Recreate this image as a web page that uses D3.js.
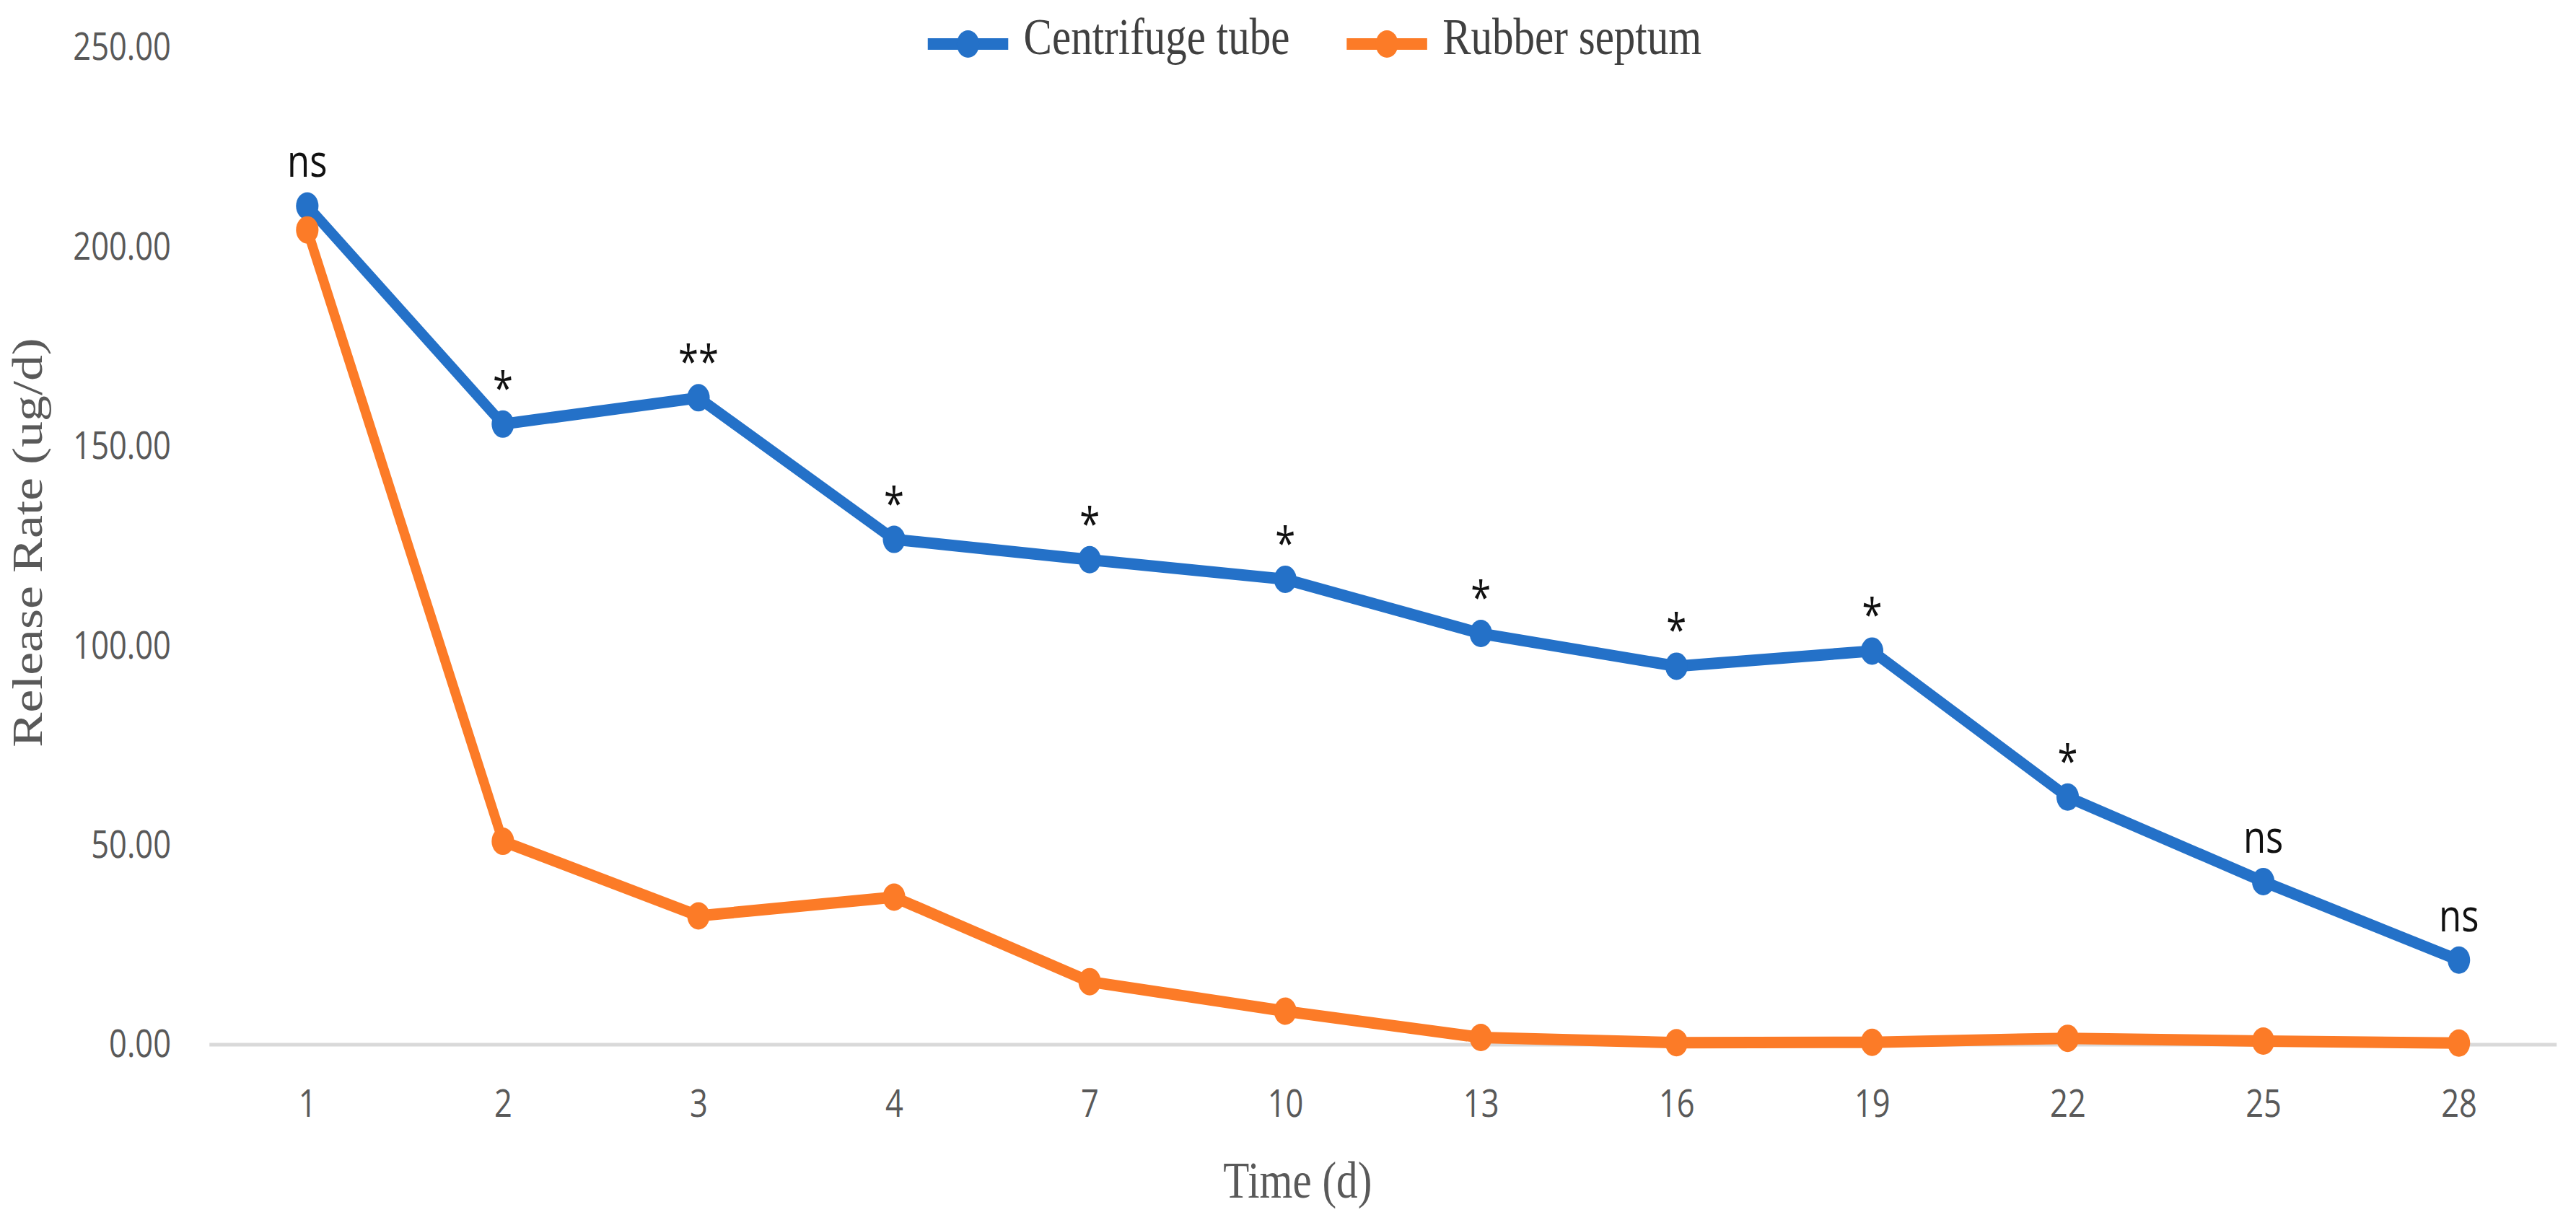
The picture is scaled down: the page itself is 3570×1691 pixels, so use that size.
<!DOCTYPE html>
<html>
<head>
<meta charset="utf-8">
<script src="https://cdn.jsdelivr.net/npm/d3@7"></script>
<style>
  html, body { margin: 0; padding: 0; background: #fff; }
  svg { display: block; }
</style>
</head>
<body>
<svg id="chart"></svg>
<script>
// Release rate per day for the two dispensers (ug/d)
const days = ['1', '2', '3', '4', '7', '10', '13', '16', '19', '22', '25', '28'];
const centrifugeTube = [210.3, 155.6, 162.2, 126.7, 121.6, 116.7, 103.1, 94.9, 98.7, 62.1, 40.9, 21.2];
const rubberSeptum = [204.3, 51.0, 32.3, 37.0, 15.8, 8.4, 1.8, 0.5, 0.6, 1.6, 0.9, 0.4];
const significance = ['ns', '*', '**', '*', '*', '*', '*', '*', '*', '*', 'ns', 'ns'];
const yTicks = [0, 50, 100, 150, 200, 250];

const seriesNames = ['Centrifuge tube', 'Rubber septum'];
const seriesColors = ['#2471c8', '#fc7b27'];

const width = 3570, height = 1691;
// the source picture is squeezed sideways, so everything is laid out wider and squeezed back
const squeeze = 0.82;

const svg = d3.select('#chart')
  .attr('width', width)
  .attr('height', height);

const g = svg.append('g').attr('transform', `scale(${squeeze},1)`);

const x = d3.scalePoint()
  .domain(days)
  .range([354, 4321])
  .padding(0.5);

const y = d3.scaleLinear()
  .domain([0, 250])
  .range([1448, 66]);

// baseline at zero
g.append('line')
  .attr('x1', x.range()[0])
  .attr('x2', x.range()[1])
  .attr('y1', y(0))
  .attr('y2', y(0))
  .attr('stroke', '#d9d9d9')
  .attr('stroke-width', 5);

// y axis, labels only
g.append('g')
  .attr('transform', `translate(${x.range()[0]},0)`)
  .call(d3.axisLeft(y).tickValues(yTicks).tickFormat(d3.format('.2f')).tickSize(0).tickPadding(65))
  .call(a => a.select('.domain').remove())
  .selectAll('text')
  .attr('font-family', '"Open Sans", sans-serif')
  .attr('font-size', 53)
  .attr('fill', '#595959');

// x axis, labels only
g.append('g')
  .attr('transform', `translate(0,${y(0)})`)
  .call(d3.axisBottom(x).tickSize(0).tickPadding(62))
  .call(a => a.select('.domain').remove())
  .selectAll('text')
  .attr('font-family', '"Open Sans", sans-serif')
  .attr('font-size', 53)
  .attr('fill', '#595959');

// axis titles
g.append('text')
  .attr('x', 2193)
  .attr('y', 1660)
  .attr('text-anchor', 'middle')
  .attr('font-family', '"Liberation Serif", "Times New Roman", serif')
  .attr('font-size', 72)
  .attr('fill', '#595959')
  .text('Time (d)');

g.append('text')
  .attr('transform', 'translate(71,752) rotate(-90)')
  .attr('text-anchor', 'middle')
  .attr('font-family', '"Liberation Serif", "Times New Roman", serif')
  .attr('font-size', 72)
  .attr('fill', '#595959')
  .text('Release Rate (ug/d)');

// the two series
const line = d3.line()
  .x((d, i) => x(days[i]))
  .y(d => y(d));

[centrifugeTube, rubberSeptum].forEach((values, k) => {
  const s = g.append('g');

  s.append('path')
    .datum(values)
    .attr('d', line)
    .attr('fill', 'none')
    .attr('stroke', seriesColors[k])
    .attr('stroke-width', 16)
    .attr('stroke-linejoin', 'round');

  s.selectAll('circle')
    .data(values)
    .enter()
    .append('circle')
    .attr('cx', (d, i) => x(days[i]))
    .attr('cy', d => y(d))
    .attr('r', 19)
    .attr('fill', seriesColors[k]);
});

// significance marks above the centrifuge tube points
g.selectAll('.sig')
  .data(significance)
  .enter()
  .append('text')
  .attr('class', 'sig')
  .attr('x', (d, i) => x(days[i]))
  .attr('y', (d, i) => y(centrifugeTube[i]) + (d === 'ns' ? -40 : -28))
  .attr('text-anchor', 'middle')
  .attr('font-family', '"Open Sans", sans-serif')
  .attr('font-size', 62)
  .attr('fill', '#111')
  .text(d => d);

// legend
const legendX = [1568, 2276];
const legend = g.selectAll('.legend')
  .data(seriesNames)
  .enter()
  .append('g')
  .attr('class', 'legend')
  .attr('transform', (d, i) => `translate(${legendX[i]},61)`);

legend.append('line')
  .attr('x1', 0)
  .attr('x2', 136)
  .attr('stroke', (d, i) => seriesColors[i])
  .attr('stroke-width', 16);

legend.append('circle')
  .attr('cx', 68)
  .attr('r', 19)
  .attr('fill', (d, i) => seriesColors[i]);

legend.append('text')
  .attr('x', 162)
  .attr('y', 14)
  .attr('font-family', '"Liberation Serif", "Times New Roman", serif')
  .attr('font-size', 72)
  .attr('fill', '#404040')
  .text(d => d);
</script>
</body>
</html>
